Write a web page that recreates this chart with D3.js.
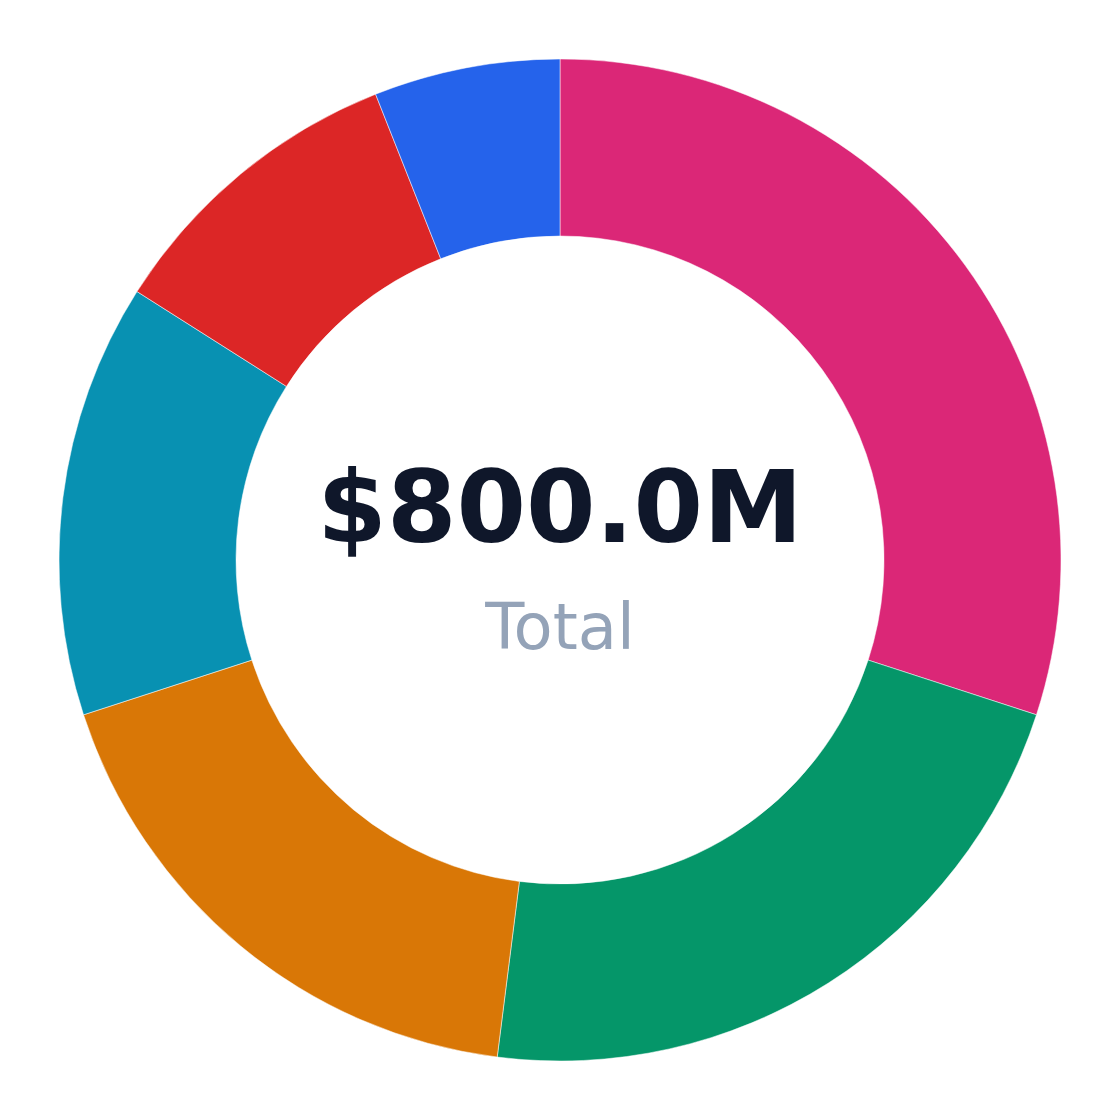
<!DOCTYPE html>
<html>
<head>
<meta charset="utf-8">
<script src="https://cdn.jsdelivr.net/npm/d3@7"></script>
<style>
  body { margin: 0; background: #fff; }
  svg { display: block; font-family: "DejaVu Sans", sans-serif; }
</style>
</head>
<body>
<div id="container"></div>
<script>
/* DATA */
const categories = ["A", "B", "C", "D", "E", "F"];
const values = [240, 176, 144, 112, 80, 48]; // $M
const colors = ["#db2777", "#059669", "#d97706", "#0891b2", "#dc2626", "#2563eb"];
const centerLabel = "Total";

/* CONSTANTS */
const width = 1120, height = 1120;
const cx = 560, cy = 560;
const outerR = 501, innerR = 324;

const svg = d3.select("#container")
  .append("svg")
  .attr("width", width)
  .attr("height", height);

const data = categories.map((c, i) => ({ cat: c, value: values[i] }));

const color = d3.scaleOrdinal()
  .domain(categories)
  .range(colors);

const pie = d3.pie()
  .value(d => d.value)
  .sort(null);

const arc = d3.arc()
  .innerRadius(innerR)
  .outerRadius(outerR);

const g = svg.append("g")
  .attr("transform", `translate(${cx},${cy})`);

g.selectAll("path.slice")
  .data(pie(data))
  .join("path")
  .attr("class", "slice")
  .attr("d", arc)
  .attr("fill", d => color(d.data.cat))
  .attr("stroke", "#fff")
  .attr("stroke-width", 0.5);

// centre text
const total = d3.sum(values);

g.append("text")
  .attr("text-anchor", "middle")
  .attr("y", -18)
  .attr("font-size", 100)
  .attr("font-weight", "bold")
  .attr("fill", "#0f172a")
  .text(`$${total.toFixed(1)}M`);

g.append("text")
  .attr("text-anchor", "middle")
  .attr("y", 89)
  .attr("font-size", 64)
  .attr("fill", "#94a3b8")
  .text(centerLabel);
</script>
</body>
</html>
